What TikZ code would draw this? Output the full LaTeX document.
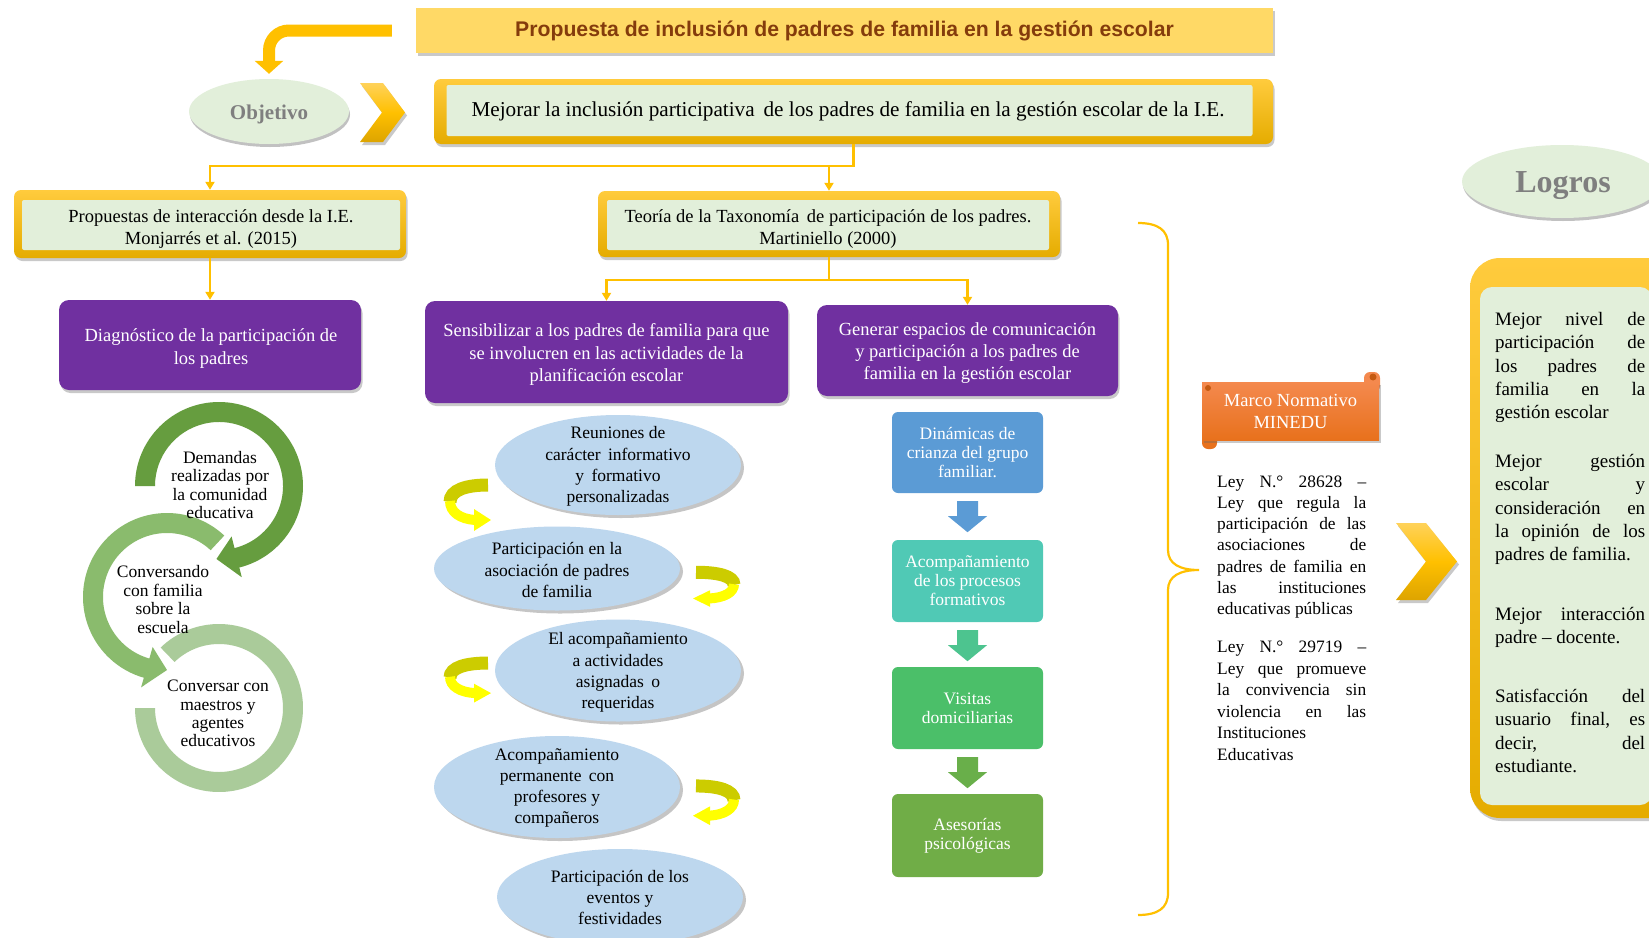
\documentclass[tikz,border=0pt]{standalone}
\usepackage{fontspec}
\setmainfont{Liberation Serif}
\newfontfamily\titlesans{Liberation Sans}
\usetikzlibrary{shapes.geometric,arrows.meta,calc,shadows,fadings}
\newcommand\myfs[2]{\fontsize{#1}{#2}\selectfont}
\definecolor{gold}{HTML}{FFC000}
\definecolor{goldtop}{HTML}{FFCB3D}
\definecolor{goldbot}{HTML}{E5AC00}
\definecolor{chevtop}{HTML}{FFD25A}
\definecolor{chevbot}{HTML}{DDA400}
\definecolor{panel}{HTML}{E2EFDA}
\definecolor{purp}{HTML}{7030A0}
\definecolor{lblue}{HTML}{BDD7EE}
\definecolor{titlefill}{HTML}{FFD966}
\definecolor{titletext}{HTML}{843C0C}
\definecolor{gcA}{HTML}{669D3F}
\definecolor{gcB}{HTML}{8ABB6D}
\definecolor{gcC}{HTML}{AACB9A}
\definecolor{fA}{HTML}{5B9BD5}
\definecolor{fB}{HTML}{50C9B5}
\definecolor{fBa}{HTML}{4DC48F}
\definecolor{fC}{HTML}{4BBF69}
\definecolor{fCa}{HTML}{69AF4A}
\definecolor{fD}{HTML}{70AD47}
\definecolor{olivey}{HTML}{CCCC00}
\definecolor{brighty}{HTML}{FFFF00}
\definecolor{orTop}{HTML}{F4894E}
\definecolor{orBot}{HTML}{E8711C}
\definecolor{orDark}{HTML}{C55A11}
\definecolor{graytxt}{HTML}{7F7F7F}
\newcommand\blockdown[2]{\fill[#2] ($(#1.south)+(-10.5,8)$) -- ($(#1.south)+(10.5,8)$) -- ($(#1.south)+(10.5,23)$) -- ($(#1.south)+(19.5,23)$) -- ($(#1.south)+(0,39)$) -- ($(#1.south)+(-19.5,23)$) -- ($(#1.south)+(-10.5,23)$) -- cycle;}
\newcommand\uturnarrow[4]{%
\begin{scope}[shift={(#1,#2)},xscale=#3,yscale=#4]
\draw[olivey, line width=13pt] (0,7) .. controls (22,7) and (38,12) .. (38,24);
\draw[brighty, line width=10pt] (38,23) .. controls (38,34) and (28,41) .. (13,42);
\fill[brighty] (14,31) -- (-3,42) -- (14,53) -- cycle;
\end{scope}}
\newcommand\justpar[2]{\parbox[t]{#1}{\frenchspacing\tolerance=10000\hbadness=10000\hyphenpenalty=10000 #2}}
\tikzset{
  conn/.style={draw=gold, line width=2.5pt, -{Triangle[width=9pt,length=8pt]}},
  softshadow/.style={drop shadow={shadow xshift=1.5pt, shadow yshift=-3pt, opacity=0.35, fill=black!60}},
  goldframe/.style={rectangle, rounded corners=7pt, top color=goldtop, bottom color=goldbot, inner sep=0pt, softshadow},
  panelbox/.style={rectangle, rounded corners=2pt, fill=panel, inner sep=0pt},
  boxtext/.style={align=center, inner sep=0pt, font=\myfs{18.5}{22}},
  purpbox/.style={rectangle, rounded corners=10pt, fill=purp, inner sep=0pt, softshadow},
  purptext/.style={align=center, inner sep=0pt, text=white, font=\myfs{18.5}{22.3}},
  bubble/.style={ellipse, fill=lblue, inner sep=0pt, drop shadow={shadow xshift=3pt, shadow yshift=-3pt, opacity=0.45, fill=black!50}},
  bubtext/.style={align=center, inner sep=0pt, font=\myfs{17.5}{21.3}},
  ringtext/.style={align=center, inner sep=0pt, font=\myfs{17.5}{18.4}},
  flowbox/.style={rectangle, rounded corners=6pt, inner sep=0pt, minimum width=151pt, text=white, align=center, font=\myfs{17.5}{19}},
  ovalgreen/.style={ellipse, fill=panel, inner sep=0pt, drop shadow={shadow xshift=1pt, shadow yshift=-3pt, opacity=0.4, fill=black!60}},
  chevfill/.style={top color=chevtop, bottom color=chevbot, middle color=gold, drop shadow={shadow xshift=2pt, shadow yshift=-3pt, opacity=0.35, fill=black!60}},
  plaintext/.style={anchor=base west, inner sep=0pt}
}
\begin{document}
\begin{tikzpicture}[x=1pt,y=-1pt]
\useasboundingbox (0,0) rectangle (1649,937);
\clip (0,0) rectangle (1649,937);
\fill[white] (0,0) rectangle (1649,937);

% title
\node[rectangle, fill=titlefill, minimum width=857pt, minimum height=45pt, inner sep=0pt, softshadow, font=\titlesans\bfseries\myfs{21.2}{24}, text=titletext] (title) at (844.5,30.5) {Propuesta de inclusión de padres de familia en la gestión escolar};

% objetivo
\node[ovalgreen, minimum width=160pt, minimum height=65pt] (obj) at (269,111.5) {};
\node[font=\bfseries\myfs{21}{24}, text=graytxt, inner sep=0pt] (objT) at (269,114.5) {Objetivo};
\draw[gold, line width=12pt, rounded corners=20pt, -{Triangle[width=28pt,length=13pt]}] ($(title.west)+(-24,0)$) -| ($(obj.north)+(0,-5)$);
\path[chevfill] (360,83) -- (383,83) -- (405,112.5) -- (383,142) -- (360,142) -- (382,112.5) -- cycle;

% mejorar
\node[goldframe, minimum width=839pt, minimum height=65pt] (mej) at (853.5,111.5) {};
\node[panelbox, minimum width=806pt, minimum height=51pt] (mejP) at (849.5,110.5) {};
\node[boxtext, font=\myfs{21.2}{24}] (mejT) at (848,111.5) {Mejorar la inclusión participativa\, de los padres de familia en la gestión escolar de la I.E.};

% second level
\node[goldframe, minimum width=392pt, minimum height=68pt] (prop) at (210,224) {};
\node[panelbox, minimum width=378pt, minimum height=50pt] (propP) at (211,225) {};
\node[boxtext] (propT) at (211,229) {Propuestas de interacción desde la I.E.\\Monjarrés et al. (2015)};
\node[goldframe, minimum width=462pt, minimum height=66pt] (teo) at (829,224) {};
\node[panelbox, minimum width=442pt, minimum height=50pt] (teoP) at (828,225) {};
\node[boxtext] (teoT) at (828,229) {Teoría de la Taxonomía\, de participación de los padres.\\Martiniello (2000)};

% purple
\node[purpbox, minimum width=302pt, minimum height=90pt] (diag) at (210,345) {};
\node[purptext] (diagT) at (211,348.5) {Diagnóstico de la participación de\\los padres};
\node[purpbox, minimum width=363pt, minimum height=102pt] (sens) at (606.5,352) {};
\node[purptext] (sensT) at (606.5,354.5) {Sensibilizar a los padres de familia para que\\se involucren en las actividades de la\\planificación escolar};
\node[purpbox, minimum width=301pt, minimum height=91pt] (gen) at (967.5,350.5) {};
\node[purptext] (genT) at (967.5,353) {Generar espacios de comunicación\\y participación a los padres de\\familia en la gestión escolar};

% connectors
\coordinate (j1) at ($(mej.south)+(0,22)$);
\draw[conn] (mej.south) -- (j1) -| (prop.north);
\draw[conn] (j1 -| teo.north) -- (teo.north);
\coordinate (j2) at ($(teo.south)+(0,23)$);
\draw[conn] (teo.south) -- (j2) -| (sens.north);
\draw[conn] (j2) -| (gen.north);
\draw[conn] (prop.south) -- (diag.north);

% rings
\begin{scope}[shift={(219,708)}]
\fill[gcC] (-134:84) arc[start angle=-134, end angle=180, radius=84] -- (180:64) arc[start angle=180, end angle=-134, radius=64] -- cycle;
\end{scope}
\begin{scope}[shift={(167,597)}]
\fill[gcB] (-47:84) arc[start angle=-47, end angle=-254, radius=84] -- (-254:94) -- (-270:73) -- (-254:52) -- (-254:64) arc[start angle=-254, end angle=-47, radius=64] -- cycle;
\end{scope}
\begin{scope}[shift={(219,486)}]
\fill[gcA] (-180:84) arc[start angle=-180, end angle=76, radius=84] -- (76:94) -- (92:73) -- (76:52) -- (76:64) arc[start angle=76, end angle=-180, radius=64] -- cycle;
\end{scope}
\node[ringtext] (r1) at (220,485) {Demandas\\realizadas por\\la comunidad\\educativa};
\node[ringtext] (r2) at (163,599.5) {Conversando\\con familia\\sobre la\\escuela};
\node[ringtext] (r3) at (218,713.5) {Conversar con\\maestros y\\agentes\\educativos};

% bubbles
\node[bubble, minimum width=246pt, minimum height=100pt] (e1) at (618,465) {};
\node[bubtext] (e1t) at (618,466.5) {Reuniones de\\carácter\, informativo\\y\, formativo\\personalizadas};
\node[bubble, minimum width=246pt, minimum height=84pt] (e2) at (557,568.5) {};
\node[bubtext] (e2t) at (557,570) {Participación en la\\asociación de padres\\de familia};
\node[bubble, minimum width=246pt, minimum height=102pt] (e3) at (618,670.5) {};
\node[bubtext] (e3t) at (618,672.5) {El acompañamiento\\a actividades\\asignadas\, o\\requeridas};
\node[bubble, minimum width=246pt, minimum height=102pt] (e4) at (557,787) {};
\node[bubtext] (e4t) at (557,788) {Acompañamiento\\permanente\, con\\profesores y\\compañeros};
\node[bubble, minimum width=246pt, minimum height=96pt] (e5) at (620,897) {};
\node[bubtext] (e5t) at (620,897.5) {Participación de los\\eventos y\\festividades};
\uturnarrow{488}{478}{-1}{1}
\uturnarrow{696}{567}{1}{0.75}
\uturnarrow{488}{657}{-1}{0.86}
\uturnarrow{696}{780}{1}{0.85}

% flow
\node[flowbox, fill=fA, minimum height=81pt] (f1) at (967.5,452.5) {Dinámicas de\\crianza del grupo\\familiar.};
\node[flowbox, fill=fB, minimum height=82pt] (f2) at (967.5,581) {Acompañamiento\\de los procesos\\formativos};
\node[flowbox, fill=fC, minimum height=82pt] (f3) at (967.5,708) {Visitas\\domiciliarias};
\node[flowbox, fill=fD, minimum height=83pt] (f4) at (967.5,835.5) {Asesorías\\psicológicas};
\blockdown{f1}{fA}
\blockdown{f2}{fBa}
\blockdown{f3}{fCa}

% brace
\draw[gold, line width=2.2pt] (1138,223) .. controls (1158,223) and (1168,230) .. (1168,245) -- (1168,550) .. controls (1168,564) and (1180,570) .. (1199,570) .. controls (1180,570) and (1168,576) .. (1168,590) -- (1168,893) .. controls (1168,908) and (1158,915) .. (1138,915);

% marco normativo scroll
\fill[orTop, rounded corners=6pt] (1364,392) -- (1364,372) -- (1380,372) -- (1380,392) -- cycle;
\fill[orBot, rounded corners=6pt] (1202,430) -- (1202,449) -- (1217,449) -- (1217,430) -- cycle;
\node[rectangle, minimum width=177pt, minimum height=58pt, inner sep=0pt, top color=orTop, bottom color=orBot, softshadow, text=white, align=center, font=\myfs{18.5}{22}] (marco) at (1290.5,411) {Marco Normativo\\MINEDU};
\fill[orDark] (1373,377) circle (3.5);
\fill[orDark] (1208,388) circle (3);

\node[plaintext] (ley1) at (1217,487) {\justpar{149pt}{\myfs{17.4}{21.3}Ley N.° 28628 –\linebreak Ley que regula la\linebreak participación de las\linebreak asociaciones de\linebreak padres de familia en\linebreak las instituciones\linebreak educativas públicas}};
\node[plaintext] (ley2) at (1217,652.5) {\justpar{149pt}{\myfs{17.4}{21.5}Ley N.° 29719 –\linebreak Ley que promueve\linebreak la convivencia sin\linebreak violencia en las\linebreak Instituciones\linebreak Educativas}};

% logros
\node[ovalgreen, minimum width=200pt, minimum height=73pt] (logros) at (1562,181.5) {};
\node[font=\bfseries\myfs{32}{36}, text=graytxt, inner sep=0pt] (logrosT) at (1563,186) {Logros};
\path[chevfill] (1396,523) -- (1426,523) -- (1457,561.5) -- (1426,600) -- (1396,600) -- (1426,561.5) -- cycle;
\node[goldframe, rounded corners=30pt, minimum width=240pt, minimum height=560pt] (logbox) at (1590,538) {};
\node[rectangle, rounded corners=12pt, fill=panel, minimum width=172pt, minimum height=518pt, inner sep=0pt] (logpanel) at (1566,546) {};
\node[plaintext] (lg1) at (1495,325.5) {\justpar{150pt}{\myfs{19}{23.3}Mejor nivel de\linebreak participación de\linebreak los padres de\linebreak familia en la\linebreak gestión escolar}};
\node[plaintext] (lg2) at (1495,467.5) {\justpar{150pt}{\myfs{19}{23.3}Mejor gestión\linebreak escolar y\linebreak consideración en\linebreak la opinión de los\linebreak padres de familia.}};
\node[plaintext] (lg3) at (1495,620.5) {\justpar{150pt}{\myfs{19}{23.3}Mejor interacción\linebreak padre – docente.}};
\node[plaintext] (lg4) at (1495,702.5) {\justpar{150pt}{\myfs{19}{23.3}Satisfacción del\linebreak usuario final, es\linebreak decir, del\linebreak estudiante.}};
\end{tikzpicture}
\end{document}
